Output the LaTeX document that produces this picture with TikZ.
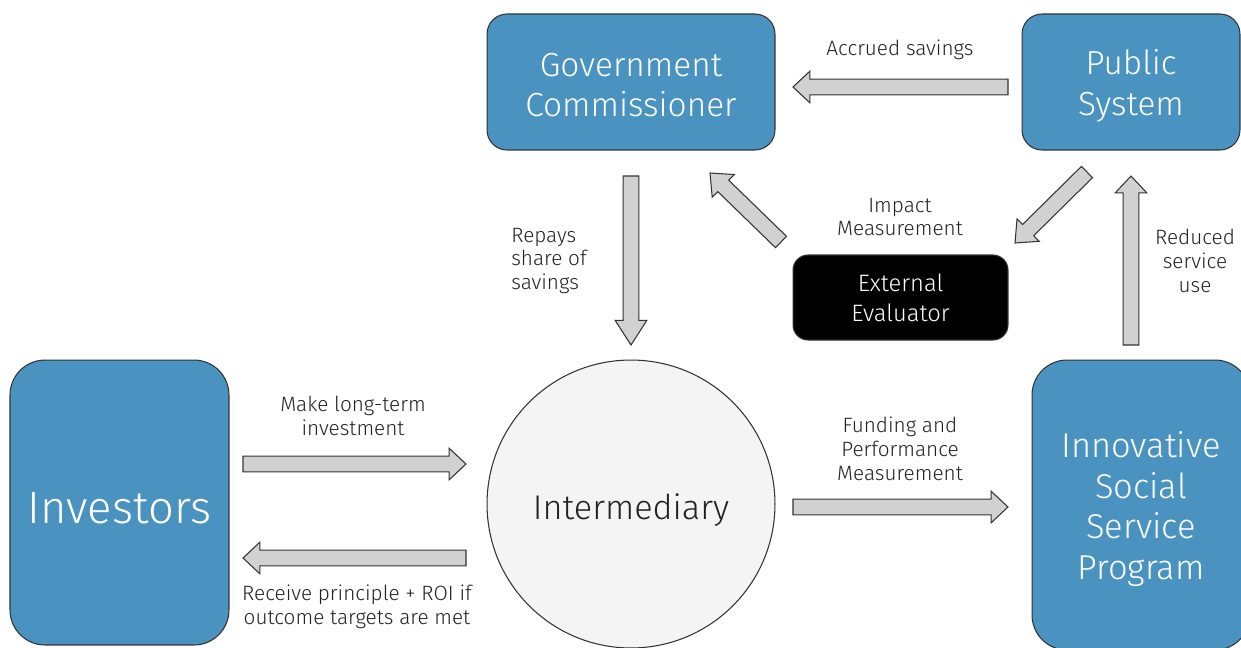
\documentclass[tikz,border=0pt]{standalone}
\usepackage{fontspec}
\setmainfont{Fira Sans}[UprightFont={* Light}]
\usetikzlibrary{calc}

\definecolor{boxblue}{HTML}{4A93C1}
\definecolor{flowgray}{HTML}{D1D1D1}
\definecolor{hubgray}{HTML}{F4F4F4}
\definecolor{linegray}{HTML}{333333}
\definecolor{textgray}{HTML}{222222}

% fat block arrow from #2 to #3, #1 = head length
\newcommand{\flow}[3][9.6pt]{%
  \coordinate (hb) at ($(#3)!#1!(#2)$);
  \draw[flowarrow] ($(#2)!4.5pt!90:(#3)$) -- ($(hb)!4.5pt!90:(#3)$)
    -- ($(hb)!9pt!90:(#3)$) -- (#3) -- ($(hb)!9pt!-90:(#3)$)
    -- ($(hb)!4.5pt!-90:(#3)$) -- ($(#2)!4.5pt!-90:(#3)$) -- cycle;}

\begin{document}
\begin{tikzpicture}[x=0.02cm,y=-0.02cm,
    party/.style={draw=linegray,line width=0.6pt,fill=boxblue,rounded corners=0.4cm,
      inner sep=0pt},
    partytext/.style={text=white,align=center,font=\fontsize{19}{23}\selectfont,inner sep=0pt},
    lbl/.style={text=textgray,align=center,font=\fontsize{11.8}{13.6}\selectfont,inner sep=0pt},
    flowarrow/.style={draw=linegray,line width=0.6pt,fill=flowgray,line join=miter}]
  \useasboundingbox (0,0) rectangle (1241,647);
  \clip (0,0) rectangle (1241,647);

  \node[party,minimum width=5.76cm,minimum height=2.72cm] (gov) at (631,82) {};
  \node[partytext] (gov-t) at (631,85) {Government\\Commissioner};
  \node[party,minimum width=4.36cm,minimum height=2.72cm] (pub) at (1131,82) {};
  \node[partytext] (pub-t) at (1131,86) {Public\\System};
  \node[party,fill=black,rounded corners=0.3cm,minimum width=4.3cm,minimum height=1.7cm,
    partytext,font=\fontsize{13.5}{17}\selectfont] (eval) at (900.5,297.5) {External\\Evaluator};
  \node[party,rounded corners=0.7cm,minimum width=4.38cm,minimum height=5.7cm] (inv)
    at (119.5,502.5) {};
  \node[partytext,font=\fontsize{25.8}{28}\selectfont] (inv-t) at (119.5,508) {Investors};
  \node[party,rounded corners=0.7cm,minimum width=4.36cm,minimum height=5.8cm] (prog)
    at (1141,505) {};
  \node[partytext,font=\fontsize{19.6}{23}\selectfont] (prog-t) at (1141,509)
    {Innovative\\Social\\Service\\Program};
  \node[circle,draw=linegray,line width=0.6pt,fill=hubgray,minimum size=5.76cm] (hub)
    at (631,504) {};
  \node[partytext,text=textgray,font=\fontsize{19.5}{22}\selectfont] (hub-t) at (631,510)
    {Intermediary};

  \coordinate (acc-a) at (1008,87);  \coordinate (acc-b) at (793,87);
  \coordinate (rep-a) at (631,176);  \coordinate (rep-b) at (631,345);
  \coordinate (inv-a) at (243,464);  \coordinate (inv-b) at (466,464);
  \coordinate (roi-a) at (466,558);  \coordinate (roi-b) at (243,558);
  \coordinate (fund-a) at (793,507); \coordinate (fund-b) at (1008,507);
  \coordinate (red-a) at (1131,345); \coordinate (red-b) at (1131,176);
  \coordinate (imp-a) at (1087,172); \coordinate (imp-b) at (1015,243);
  \coordinate (ev-a) at (781,242);   \coordinate (ev-b) at (710,173);

  \flow{acc-a}{acc-b}
  \flow[14pt]{rep-a}{rep-b}
  \flow{inv-a}{inv-b}
  \flow{roi-a}{roi-b}
  \flow{fund-a}{fund-b}
  \flow{red-a}{red-b}
  \flow[10.5pt]{imp-a}{imp-b}
  \flow[10.5pt]{ev-a}{ev-b}

  \node[lbl] (acc-l) at (900,50) {Accrued savings};
  \node[lbl] (imp-l) at (900,217) {Impact\\Measurement};
  \node[lbl,align=left] (rep-l) at (549,261) {Repays\\share of\\savings};
  \node[lbl] (red-l) at (1195,261) {Reduced\\service\\use};
  \node[lbl] (inv-l) at (353,416) {Make long-term\\investment};
  \node[lbl] (roi-l) at (357,607) {Receive principle + ROI if\\outcome targets are met};
  \node[lbl] (fund-l) at (900,449) {Funding and\\Performance\\Measurement};
\end{tikzpicture}
\end{document}
